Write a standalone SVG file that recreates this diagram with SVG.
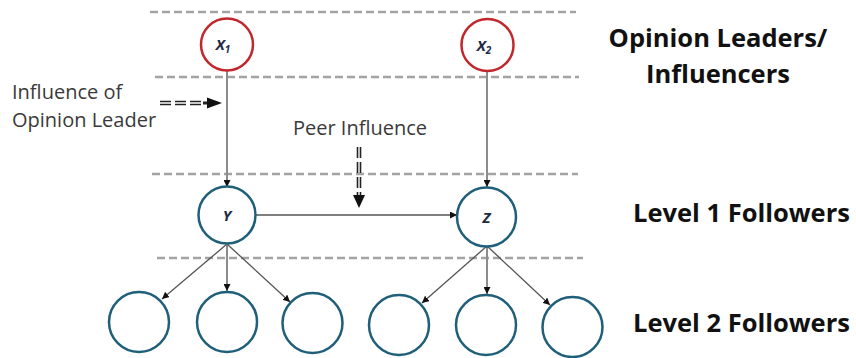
<svg xmlns="http://www.w3.org/2000/svg" width="856" height="358" viewBox="0 0 856 358">
<defs>
<style>
.dash{stroke:#a3a3a3;stroke-width:2.5;stroke-dasharray:8 4;fill:none}
.lead{fill:#fff;stroke:#c1272d;stroke-width:2.5}
.fol{fill:#fff;stroke:#1f5f7a;stroke-width:2.5}
.edge{stroke:#555;stroke-width:1.3;fill:none}
.vedge{stroke:#8c8c8c;stroke-width:2;fill:none}
.nl{font-family:"Open Sans",sans-serif;font-weight:bold;font-style:italic;font-size:15px;fill:#1f2a44}
.lbl{font-family:"Open Sans",sans-serif;font-size:20px;fill:#3a3a3a}
.big{font-family:"Open Sans",sans-serif;font-weight:bold;font-size:25.5px;fill:#111}
.dd{stroke:#222;stroke-width:1.6;stroke-dasharray:11 4;fill:none}
</style>
<marker id="ah" viewBox="0 0 10 10" refX="10" refY="5" markerWidth="7" markerHeight="7" markerUnits="userSpaceOnUse" orient="auto">
<path d="M0,0 L10,5 L0,10 z" fill="#111"/>
</marker>
</defs>
<rect width="856" height="358" fill="#fff"/>
<g id="bands">
<line class="dash" x1="150" y1="12" x2="576" y2="12"/>
<line class="dash" x1="155" y1="77" x2="579" y2="77"/>
<line class="dash" x1="152" y1="174" x2="578" y2="174"/>
<line class="dash" x1="157" y1="258" x2="583" y2="258"/>
</g>
<g id="connectors">
<line class="vedge" x1="227" y1="71" x2="227" y2="187" marker-end="url(#ah)"/>
<line class="vedge" x1="487" y1="71" x2="487" y2="187" marker-end="url(#ah)"/>
<line class="edge" x1="256" y1="215" x2="457" y2="215" marker-end="url(#ah)"/>
<line class="edge" x1="227" y1="244" x2="162" y2="299" marker-end="url(#ah)"/>
<line class="vedge" x1="227" y1="244" x2="227" y2="291" marker-end="url(#ah)"/>
<line class="edge" x1="227" y1="244" x2="290" y2="302" marker-end="url(#ah)"/>
<line class="edge" x1="487" y1="246" x2="422" y2="303" marker-end="url(#ah)"/>
<line class="vedge" x1="487" y1="246" x2="487" y2="294" marker-end="url(#ah)"/>
<line class="edge" x1="487" y1="246" x2="550" y2="305" marker-end="url(#ah)"/>
</g>
<g id="influence-arrow">
<line class="dd" x1="160" y1="101.5" x2="203" y2="101.5"/>
<line class="dd" x1="160" y1="104.5" x2="203" y2="104.5"/>
<line x1="203" y1="103" x2="208" y2="103" stroke="#222" stroke-width="3"/>
<path d="M207,97.5 L222,103 L207,108.5 z" fill="#111"/>
</g>
<g id="peer-arrow">
<line class="dd" x1="357.5" y1="147" x2="357.5" y2="196"/>
<line class="dd" x1="360.5" y1="147" x2="360.5" y2="196"/>
<path d="M353,195 L359,208 L365,195 z" fill="#111"/>
</g>
<g id="x1"><circle class="lead" cx="227" cy="44.5" r="26"/><text class="nl" x="223" y="50" text-anchor="middle">X<tspan font-size="10" dy="3">1</tspan></text></g>
<g id="x2"><circle class="lead" cx="487.5" cy="45" r="26"/><text class="nl" x="484" y="50.5" text-anchor="middle">X<tspan font-size="10" dy="3">2</tspan></text></g>
<g id="y"><circle class="fol" cx="227" cy="215" r="28.5"/><text class="nl" x="227" y="220.5" text-anchor="middle">Y</text></g>
<g id="z"><circle class="fol" cx="486.5" cy="217" r="29.5"/><text class="nl" x="486.5" y="222.5" text-anchor="middle">Z</text></g>
<g id="f1"><circle class="fol" cx="139" cy="322" r="30"/></g>
<g id="f2"><circle class="fol" cx="227" cy="322" r="30"/></g>
<g id="f3"><circle class="fol" cx="312.5" cy="323" r="30"/></g>
<g id="f4"><circle class="fol" cx="399" cy="325" r="30"/></g>
<g id="f5"><circle class="fol" cx="486" cy="325" r="30"/></g>
<g id="f6"><circle class="fol" cx="572.5" cy="327" r="30"/></g>
<g id="labels">
<text class="lbl" x="12" y="99">Influence of</text>
<text class="lbl" x="12" y="127">Opinion Leader</text>
<text class="lbl" x="360" y="135" text-anchor="middle">Peer Influence</text>
<text class="big" x="718" y="47" text-anchor="middle">Opinion Leaders/</text>
<text class="big" x="718" y="83" text-anchor="middle">Influencers</text>
<text class="big" x="633" y="222">Level 1 Followers</text>
<text class="big" x="633" y="332">Level 2 Followers</text>
</g>
</svg>
